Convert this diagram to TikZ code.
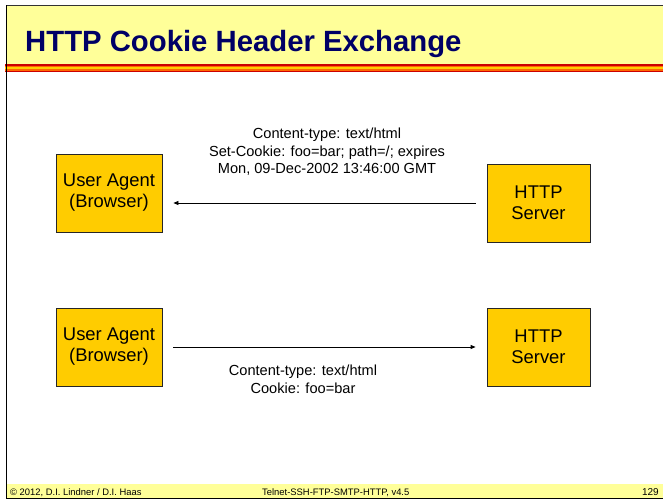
\documentclass[tikz,border=0pt]{standalone}
\usepackage{fontspec}
\setmainfont{Liberation Sans}
\usetikzlibrary{arrows.meta}
\definecolor{bandyellow}{HTML}{FFFF99}
\definecolor{boxfill}{HTML}{FFCC00}
\definecolor{titleblue}{HTML}{000066}
\definecolor{stripered}{HTML}{CC0000}
\definecolor{stripeorange}{HTML}{FF6600}
\definecolor{stripeyellow}{HTML}{FFCC00}
\tikzset{
  agentbox/.style={draw=black!85, line width=0.8pt, fill=boxfill, minimum width=106pt, minimum height=78pt, inner sep=0pt, align=center, font=\fontsize{18.4}{21}\selectfont},
  msglabel/.style={align=center, inner sep=0pt, font=\fontsize{14.6}{17.5}\selectfont},
  msgarrow/.style={draw=black, line width=0.8pt, -{Triangle[length=5pt,width=4pt]}},
  foottext/.style={inner sep=0pt, font=\fontsize{9.4}{11}\selectfont},
}
\begin{document}
\begin{tikzpicture}[x=1pt,y=-1pt]
\useasboundingbox (0,0) rectangle (663,501);
\fill[white] (0,0) rectangle (663,501);
% title band
\fill[bandyellow] (6,5.5) rectangle (663,64);
% stripes
\fill[stripered] (5,64) rectangle (663,65.5);
\fill[stripeorange] (5,65.5) rectangle (663,67);
\fill[stripeyellow] (5,67) rectangle (663,69);
\fill[stripeorange] (5,69) rectangle (663,70.5);
\fill[stripered] (5,70.5) rectangle (663,72);
% footer band
\fill[bandyellow] (6,484) rectangle (663,498);
% frame lines
\draw[black!80, line width=1.2pt] (6.5,5.5) -- (663,5.5);
\draw[black, line width=1.4pt] (6.5,5) -- (6.5,499);
\draw[black, line width=1.2pt] (6,498.8) -- (663,498.8);
% title
\node[anchor=base west, inner sep=0pt, text=titleblue, font=\fontsize{29.3}{34}\selectfont\bfseries] (title) at (25,51) {HTTP Cookie Header Exchange};
% boxes
\node[agentbox] (ua1) at (109,193) {User Agent\\(Browser)};
\node[agentbox, minimum width=103pt] (s1) at (538.5,203) {HTTP\\Server};
\node[agentbox] (ua2) at (109,347) {User Agent\\(Browser)};
\node[agentbox, minimum width=103pt] (s2) at (538.5,347) {HTTP\\Server};
% arrows
\draw[msgarrow] ([xshift=-11pt]s1.west) -- ([xshift=11pt]ua1.east |- s1.west);
\draw[msgarrow] ([xshift=11pt]ua2.east) -- ([xshift=-11pt]s2.west);
% labels
\node[msglabel] (lab1) at (327,152) {Content-type: text/html\\Set-Cookie: foo=bar; path=/; expires\\Mon, 09-Dec-2002 13:46:00 GMT};
\node[msglabel] (lab2) at (303,379.5) {Content-type: text/html\\Cookie: foo=bar};
% footer
\node[foottext, anchor=base west] (f1) at (10,495) {© 2012, D.I. Lindner / D.I. Haas};
\node[foottext, anchor=base west] (f2) at (262,495) {Telnet-SSH-FTP-SMTP-HTTP, v4.5};
\node[anchor=base east, inner sep=0pt, font=\fontsize{10}{11}\selectfont] (f3) at (659,495) {129};
\end{tikzpicture}
\end{document}
